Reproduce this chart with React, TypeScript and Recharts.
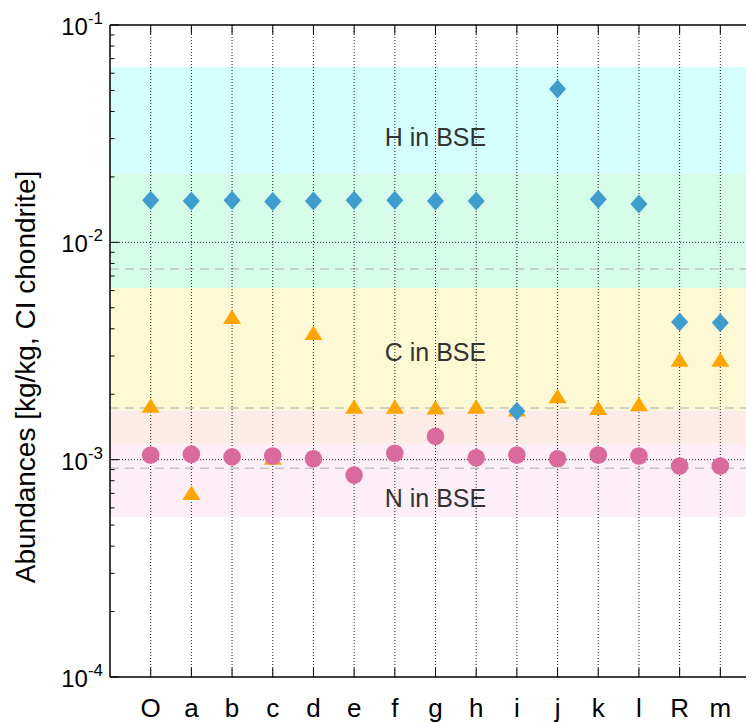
import React from 'react';
import {
  ComposedChart,
  Scatter,
  XAxis,
  YAxis,
  ReferenceArea,
  ReferenceLine,
  ReferenceDot,
} from 'recharts';

// sample labels along the x axis
const categories = ['O', 'a', 'b', 'c', 'd', 'e', 'f', 'g', 'h', 'i', 'j', 'k', 'l', 'R', 'm'];

// abundances [kg/kg, CI chondrite]
const hydrogen = [0.0156, 0.0155, 0.0156, 0.0154, 0.0155, 0.0156, 0.0156, 0.0155, 0.0155, 0.00167, 0.0508, 0.0158, 0.015, 0.0043, 0.00426];
const carbon = [0.00177, 0.000702, 0.00453, 0.00102, 0.00383, 0.00175, 0.00175, 0.00174, 0.00175, 0.0017, 0.00196, 0.00173, 0.0018, 0.00288, 0.00288];
const nitrogen = [0.00105, 0.00106, 0.00103, 0.00104, 0.00101, 0.000849, 0.00107, 0.00128, 0.00102, 0.00105, 0.00101, 0.00105, 0.00104, 0.000935, 0.000935];

// BSE ranges (low, high) and best estimates
const bandLow = [0.0208, 0.00617, 0.00168, 0.00118, 0.000545];
const bandHigh = [0.0641, 0.0208, 0.00617, 0.00168, 0.00118];
const bseLines = [0.00753, 0.001728, 0.000914];

const bandText = ['H in BSE', 'C in BSE', 'N in BSE'];
const bandTextY = [0.0305, 0.00313, 0.000665];
const bandTextX = 8;

const yTicks = [1e-4, 1e-3, 1e-2, 1e-1];
const minorTicks = [2, 3, 4, 5, 6, 7, 8, 9].flatMap((m) => [1e-4, 1e-3, 1e-2].map((d) => m * d));
const xTicks = categories.map((_, i) => i + 1);

const bandColors = ['#D4FFFF', '#D6FCEA', '#FEF9D5', '#FDEBE8', '#FDEEF8'];
const FONT = '"Liberation Sans", Arial, Helvetica, sans-serif';

const toPoints = (vals: number[]) => vals.map((v, i) => ({ x: i + 1, y: v }));

const Diamond = (p: any) => {
  const { cx, cy } = p;
  if (cx == null || cy == null) return null;
  return <polygon points={`${cx},${cy - 9.5} ${cx + 8.5},${cy} ${cx},${cy + 9.5} ${cx - 8.5},${cy}`} fill="#3E9DCD" />;
};

const Triangle = (p: any) => {
  const { cx, cy } = p;
  if (cx == null || cy == null) return null;
  return <polygon points={`${cx},${cy - 7.5} ${cx + 9},${cy + 7} ${cx - 9},${cy + 7}`} fill="#FFA500" />;
};

const Dot = (p: any) => {
  const { cx, cy } = p;
  if (cx == null || cy == null) return null;
  return <circle cx={cx} cy={cy} r={8.8} fill="#DA6A9B" />;
};

const YTick = (p: any) => {
  const { x, y, payload } = p;
  const exp = Math.round(Math.log10(payload.value));
  return (
    <text x={x + 1} y={y} dy={10} textAnchor="end" fontFamily={FONT} fontSize={24} fill="#000">
      <tspan>10</tspan>
      <tspan dy={-11} fontSize={17}>{exp}</tspan>
    </text>
  );
};

const XTick = (p: any) => {
  const { x, y, payload } = p;
  return (
    <text x={x} y={y + 17} textAnchor="middle" fontFamily={FONT} fontSize={26} fill="#000">
      {categories[payload.value - 1] ?? ''}
    </text>
  );
};

export default function App() {
  return (
    <div style={{ width: 746, height: 715, overflow: 'hidden' }}>
      <ComposedChart width={760} height={715} margin={{ top: 17, right: 7, bottom: 0, left: 0 }}>
        <XAxis
          type="number"
          dataKey="x"
          domain={[0, 16]}
          ticks={xTicks}
          allowDataOverflow
          height={46}
          tickLine={false}
          tickMargin={17}
          axisLine={{ stroke: '#000', strokeWidth: 1.5 }}
          tick={<XTick />}
        />
        <YAxis
          type="number"
          dataKey="y"
          scale="log"
          domain={[1e-4, 1e-1]}
          ticks={yTicks}
          allowDataOverflow
          width={102}
          tickLine={false}
          axisLine={{ stroke: '#000', strokeWidth: 1.5 }}
          tick={<YTick />}
          label={{
            value: 'Abundances [kg/kg, CI chondrite]',
            angle: -90,
            position: 'center',
            dx: -34,
            dy: 26,
            style: { fontSize: 28, fill: '#000', fontFamily: FONT },
          }}
        />

        {bandLow.map((lo, i) => (
          <ReferenceArea key={`band-${i}`} x1={0} x2={16} y1={lo} y2={bandHigh[i]} fill={bandColors[i]} fillOpacity={1} stroke="none" ifOverflow="hidden" />
        ))}

        {bseLines.map((v) => (
          <ReferenceLine key={`bse-${v}`} y={v} stroke="#C4C4C4" strokeWidth={1.5} strokeDasharray="9 6" />
        ))}

        {xTicks.map((x) => (
          <ReferenceLine key={`vg-${x}`} x={x} stroke="#222" strokeDasharray="1 2" />
        ))}
        {[1e-3, 1e-2].map((v) => (
          <ReferenceLine key={`hg-${v}`} y={v} stroke="#222" strokeDasharray="1 2" />
        ))}

        {minorTicks.map((v) => (
          <ReferenceLine key={`mt-${v}`} segment={[{ x: 0, y: v }, { x: 0.11, y: v }]} stroke="#000" />
        ))}
        {yTicks.map((v) => (
          <ReferenceLine key={`Mt-${v}`} segment={[{ x: 0, y: v }, { x: 0.22, y: v }]} stroke="#000" />
        ))}
        {xTicks.map((x) => (
          <ReferenceLine key={`xb-${x}`} segment={[{ x, y: 1e-4 }, { x, y: 1.1e-4 }]} stroke="#000" />
        ))}
        {xTicks.map((x) => (
          <ReferenceLine key={`xt-${x}`} segment={[{ x, y: 1e-1 }, { x, y: 0.0909 }]} stroke="#000" />
        ))}
        <ReferenceLine y={1e-1} stroke="#000" strokeWidth={1.5} />

        {bandText.map((t, i) => (
          <ReferenceDot
            key={t}
            x={bandTextX}
            y={bandTextY[i]}
            r={0}
            fill="none"
            stroke="none"
            label={{ value: t, position: 'center', style: { fontSize: 25, fill: '#333', fontFamily: FONT } }}
          />
        ))}

        <Scatter name="C" data={toPoints(carbon)} shape={<Triangle />} isAnimationActive={false} />
        <Scatter name="N" data={toPoints(nitrogen)} shape={<Dot />} isAnimationActive={false} />
        <Scatter name="H" data={toPoints(hydrogen)} shape={<Diamond />} isAnimationActive={false} />
      </ComposedChart>
    </div>
  );
}
